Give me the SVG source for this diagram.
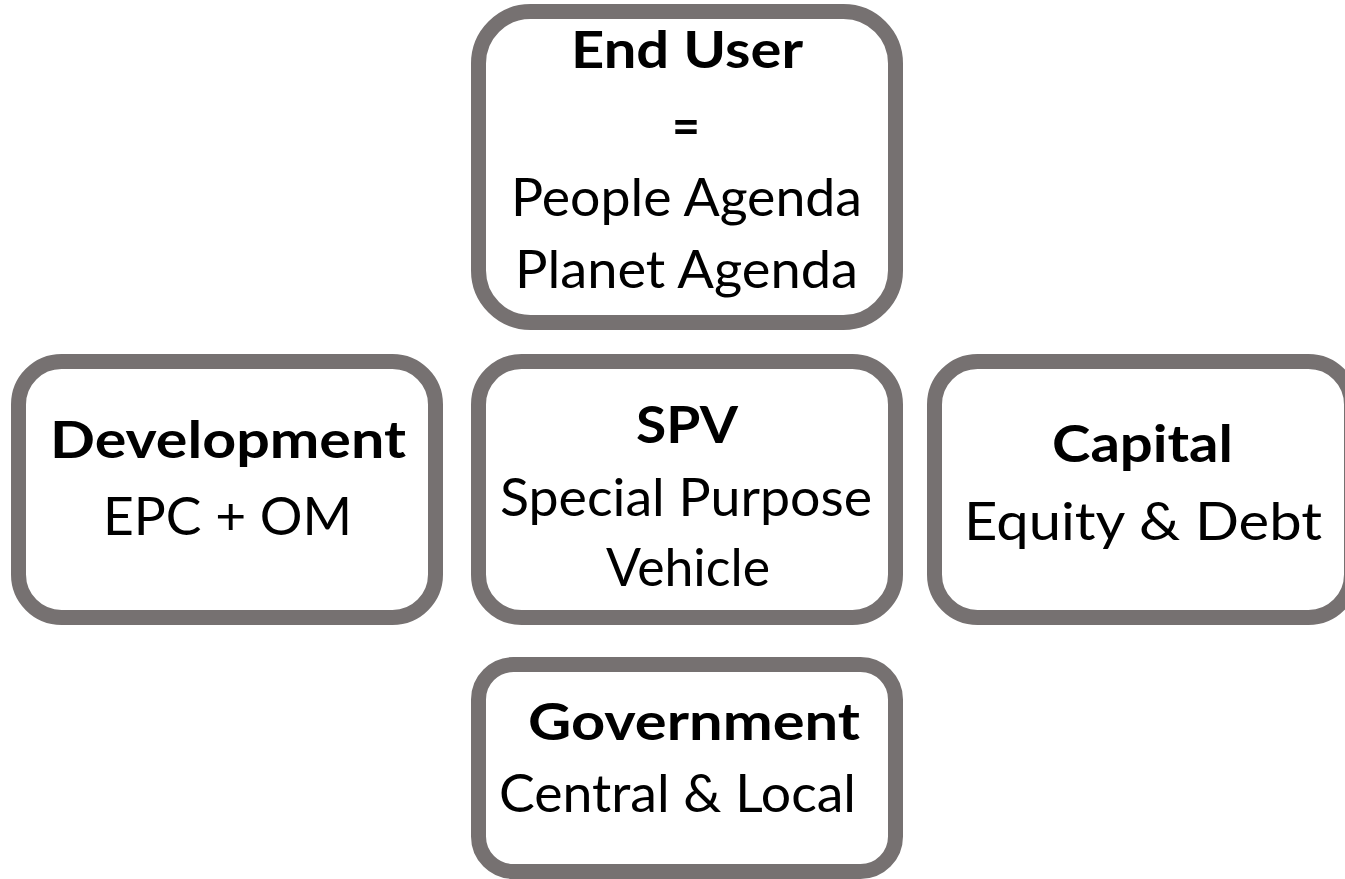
<svg xmlns="http://www.w3.org/2000/svg" width="1345" height="879" viewBox="0 0 1345 879">
  <style>
    .box { fill: #ffffff; stroke: #767171; stroke-width: 15; }
    .t { font-family: Lato, "Open Sans", "Liberation Sans", sans-serif; font-size: 52px; fill: #000000; text-anchor: middle; }
    .b { font-weight: bold; }
  </style>
  <rect x="0" y="0" width="1345" height="879" fill="#ffffff"/>
  <g id="connectors"></g>
  <g id="end-user">
    <rect class="box" x="478.5" y="11.5" width="417" height="311" rx="52" ry="52"/>
    <text class="t b" x="687" y="68" textLength="232" lengthAdjust="spacingAndGlyphs">End User</text>
    <text class="t b" x="686" y="144" textLength="28" lengthAdjust="spacingAndGlyphs">=</text>
    <text class="t" x="686.5" y="216" textLength="351" lengthAdjust="spacingAndGlyphs">People Agenda</text>
    <text class="t" x="686.5" y="288" textLength="343" lengthAdjust="spacingAndGlyphs">Planet Agenda</text>
  </g>
  <g id="development">
    <rect class="box" x="18.5" y="361.5" width="417" height="256" rx="43" ry="43"/>
    <text class="t b" x="228" y="458" textLength="356" lengthAdjust="spacingAndGlyphs">Development</text>
    <text class="t" x="227.5" y="535" textLength="249" lengthAdjust="spacingAndGlyphs">EPC + OM</text>
  </g>
  <g id="spv">
    <rect class="box" x="478.5" y="361.5" width="417" height="256" rx="43" ry="43"/>
    <text class="t b" x="687" y="443" textLength="102" lengthAdjust="spacingAndGlyphs">SPV</text>
    <text class="t" x="686" y="516" textLength="372" lengthAdjust="spacingAndGlyphs">Special Purpose</text>
    <text class="t" x="688" y="586" textLength="164" lengthAdjust="spacingAndGlyphs">Vehicle</text>
  </g>
  <g id="capital">
    <rect class="box" x="934.5" y="361.5" width="417" height="256" rx="43" ry="43"/>
    <text class="t b" x="1142.5" y="462" textLength="181" lengthAdjust="spacingAndGlyphs">Capital</text>
    <text class="t" x="1143" y="540" textLength="358" lengthAdjust="spacingAndGlyphs">Equity &amp; Debt</text>
  </g>
  <g id="government">
    <rect class="box" x="478.5" y="664.5" width="417" height="207" rx="35" ry="35"/>
    <text class="t b" x="694" y="740" textLength="332" lengthAdjust="spacingAndGlyphs">Government</text>
    <text class="t" x="677.5" y="812" textLength="357" lengthAdjust="spacingAndGlyphs">Central &amp; Local</text>
  </g>
</svg>
